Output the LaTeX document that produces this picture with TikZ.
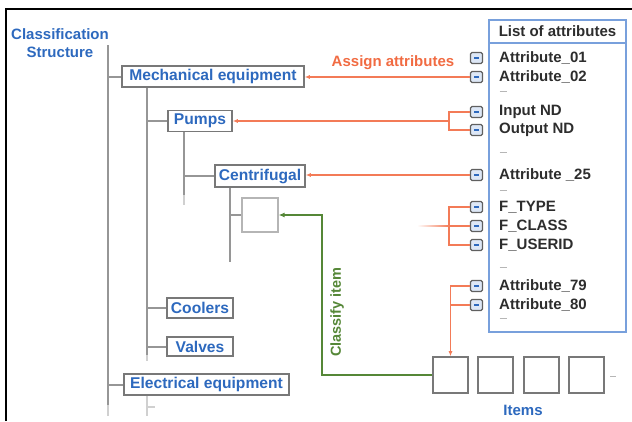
\documentclass[tikz,border=0pt]{standalone}
\usepackage{fontspec}
\setmainfont{Liberation Sans}
\usetikzlibrary{arrows.meta}
\definecolor{tblue}{RGB}{45,105,190}
\definecolor{lblue}{RGB}{120,160,220}
\definecolor{tred}{RGB}{240,90,45}
\definecolor{tgreen}{RGB}{85,135,55}
\definecolor{tgray}{RGB}{150,150,150}
\definecolor{bgray}{RGB}{120,120,120}
\definecolor{atxt}{RGB}{45,45,45}
\tikzset{
  cls/.style={draw=bgray, line width=1.5pt, fill=white, inner sep=0pt,
    font=\fontsize{15.6}{15.6}\selectfont\bfseries, text=tblue, minimum height=21pt},
  tree/.style={draw=tgray, line width=2pt},
  treefade/.style={draw=tgray!45, line width=2pt},
  attr/.style={anchor=west, inner sep=0pt, font=\fontsize{15}{15}\selectfont\bfseries, text=atxt},
  gap/.style={inner sep=0pt, text=tgray!70},
  icon/.style={draw=bgray!80!black, line width=1.3pt, fill=lblue!25, rounded corners=1.5pt,
    minimum width=12pt, minimum height=11pt, inner sep=0pt},
  redline/.style={draw=tred!80, line width=1.3pt},
  redarrow/.style={redline, -{Latex[length=5pt,width=4pt]}},
  greenarrow/.style={draw=tgreen, line width=1.3pt, -{Latex[length=6pt,width=5pt]}},
  itembox/.style={draw=bgray, line width=1.6pt, fill=white, minimum width=35pt, minimum height=36pt, inner sep=0pt},
  lbl/.style={inner sep=0pt, font=\fontsize{15}{15}\selectfont\bfseries},
}
\newcommand{\minusico}{\textcolor{tblue}{\rule[0.2pt]{5pt}{1.6pt}}}
\begin{document}
\begin{tikzpicture}[x=1pt,y=-1pt]
\useasboundingbox (0,0) rectangle (632,421);
% frame
\draw[line width=2.5pt, black] (6,421) -- (6,9) -- (632,9);

% title
\node[lbl, text=tblue, align=center, font=\fontsize{15}{18}\selectfont\bfseries] (title) at (60,43) {Classification\\Structure};

% tree boxes
\node[cls, minimum width=182pt] (mech) at (213,76.5) {Mechanical equipment};
\node[cls, minimum width=64pt] (pumps) at (200,121) {Pumps};
\node[cls, minimum width=90pt, minimum height=22pt] (centr) at (260,176) {Centrifugal};
\node[draw=tgray!70, line width=1.2pt, minimum width=36pt, minimum height=34pt, inner sep=0pt] (sbox) at (260,215) {};
\node[cls, minimum width=66pt, minimum height=20pt] (cool) at (200,308) {Coolers};
\node[cls, minimum width=66pt, minimum height=19pt] (valv) at (200,346.5) {Valves};
\node[cls, minimum width=165pt] (elec) at (206.5,384.5) {Electrical equipment};

% tree lines
\coordinate (m0) at (108,45);
\draw[tree] (m0) -- (108,405);
\draw[treefade] (108,405) -- (108,416);
\draw[tree] (108,0 |- mech.west) -- (mech.west);
\draw[tree] (108,0 |- elec.west) -- (elec.west);
\draw[tree] (147,0 |- mech.south) -- (147,355);
\draw[treefade] (147,355) -- (147,361);
\draw[tree] (147,0 |- pumps.west) -- (pumps.west);
\draw[tree] (147,0 |- cool.west) -- (cool.west);
\draw[tree] (147,0 |- valv.west) -- (valv.west);
\draw[tree] (184,0 |- pumps.south) -- (184,195);
\draw[treefade] (184,195) -- (184,205);
\draw[tree] (184,0 |- centr.west) -- (centr.west);
\draw[tree] (230,0 |- centr.south) -- (230,262);
\draw[tree] (230,0 |- sbox.west) -- (sbox.west);
\draw[treefade] (147,0 |- elec.south) -- (147,416);
\draw[treefade] (147,407) -- (155,407);

% attribute list
\node[draw=lblue, line width=1.5pt, minimum width=137pt, minimum height=312pt, inner sep=0pt] (list) at (557.5,176) {};
\draw[draw=lblue, line width=1.5pt] (489,43) -- (626,43);
\node[lbl, text=atxt] (lhead) at (557.5,31.5) {List of attributes};

\node[attr] (a1) at (499,58) {Attribute\_01};
\node[attr] (a2) at (499,77) {Attribute\_02};
\node[gap] (d1) at (503,91) {\rule{7pt}{0.9pt}};
\node[attr] (a3) at (499,112) {Input ND};
\node[attr] (a4) at (499,130) {Output ND};
\node[gap] (d2) at (503,152) {\rule{7pt}{0.9pt}};
\node[attr] (a5) at (499,175) {Attribute \_25};
\node[gap] (d3) at (503,190) {\rule{7pt}{0.9pt}};
\node[attr] (a6) at (499,207) {F\_TYPE};
\node[attr] (a7) at (499,226) {F\_CLASS};
\node[attr] (a8) at (499,245) {F\_USERID};
\node[gap] (d4) at (503,267) {\rule{7pt}{0.9pt}};
\node[attr] (a9) at (499,286) {Attribute\_79};
\node[attr] (a10) at (499,305) {Attribute\_80};
\node[gap] (d5) at (503,318) {\rule{7pt}{0.9pt}};

% icons
\foreach \n/\y in {1/58,2/77,3/112,4/130,5/175,6/207,7/226,8/245,9/286,10/305}{
  \node[icon] (i\n) at (476.5,\y) {\minusico};
}

% items
\node[itembox] (it1) at (450.5,375) {};
\node[itembox] (it2) at (495.5,375) {};
\node[itembox] (it3) at (541.5,375) {};
\node[itembox] (it4) at (586.5,375) {};
\node[gap] (d6) at (613,376) {\rule{6pt}{1pt}};
\node[lbl, text=tblue] (items) at (523,410) {Items};

% red connectors
\node[lbl, text=tred!90] (assign) at (393,63) {Assign attributes};
\draw[redarrow] (i2.west) -- (i2.west -| mech.east);
\coordinate (j1) at (449,121);
\draw[redline] (i3.west) -| (j1);
\draw[redline] (i4.west) -| (j1);
\draw[redarrow] (j1) -- (j1 -| pumps.east);
\draw[redarrow] (i5.west) -- (i5.west -| centr.east);
\coordinate (j2) at (449,226);
\draw[redline] (i6.west) -| (j2);
\draw[redline] (i8.west) -| (j2);
\draw[redline] (i7.west) -- (j2);
\coordinate (f0) at (417,226);
\shade[left color=white, right color=tred!80] (f0) ++(0,-0.65) rectangle (449,226.65);
\draw[redarrow] (i9.west) -| (it1.north);
\draw[redline] (i10.west) -- (i10.west -| it1.north);

% green connector
\coordinate (g1) at (322,215);
\draw[greenarrow] (it1.west) -| (g1) -- (sbox.east);
\node[lbl, text=tgreen, rotate=90, font=\fontsize{14.5}{14.5}\selectfont\bfseries] (classify) at (337,312) {Classify item};
\end{tikzpicture}
\end{document}
